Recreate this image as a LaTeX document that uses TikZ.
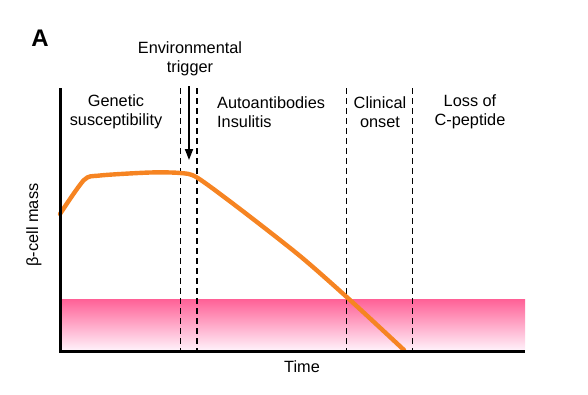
\documentclass[tikz,border=0pt]{standalone}
\usepackage{fontspec}
\setmainfont{Liberation Sans}
\usetikzlibrary{arrows.meta}
\definecolor{curveorange}{RGB}{246,132,34}
\definecolor{bandpink}{RGB}{255,96,150}
\definecolor{bandlight}{RGB}{255,238,248}
\tikzset{
  lbl/.style={font=\fontsize{16.3}{19}\selectfont, align=center, inner sep=0pt},
  lbll/.style={font=\fontsize{16.3}{19}\selectfont, align=left, inner sep=0pt},
  axisline/.style={line width=3pt, black},
  divider/.style={line width=1.9pt, dash pattern=on 6pt off 4pt, black},
  massline/.style={line width=4.4pt, curveorange, line join=round, line cap=round},
}
\begin{document}
\begin{tikzpicture}[x=1pt,y=-1pt]
\useasboundingbox (0,0) rectangle (588,394);
% pink band
\shade[top color=bandpink, bottom color=bandlight] (60,299) rectangle (525,349);
% coordinates
\coordinate (ytop) at (60,88);
\coordinate (orig) at (60,351);
\coordinate (xend) at (525,351);
\foreach \n/\x in {d1/180.5, d2/197, d3/346.5, d4/412.5}{
  \coordinate (\n t) at (\x,88);
  \coordinate (\n b) at (\x,351);
}
% dividers
\foreach \n in {d1,d2,d3,d4}{ \draw[divider] (\n t) -- (\n b); }
% curve
\draw[massline] plot[smooth, tension=0.45] coordinates {(60,214) (84,180) (100,175.5) (150,172.5) (180,173) (197,177.5) (240,209) (300,256) (350,300) (404,350)};
% axes
\draw[axisline] (ytop) -- (orig) -- (xend);
% labels
\node[font=\fontsize{24}{24}\selectfont\bfseries, inner sep=0pt] (A) at (40,38) {A};
\node[lbl] (env) at (190,59) {Environmental\\trigger};
\coordinate (arrS) at (189,86);
\coordinate (arrE) at (189,160);
\draw[line width=1.8pt, -{Triangle[length=11pt,width=8pt]}] (arrS) -- (arrE);
\node[lbl] (gen) at (116,112) {Genetic\\susceptibility};
\node[lbll, anchor=west] (auto) at (217,112) {Autoantibodies\\Insulitis};
\node[lbl] (clin) at (380,112) {Clinical\\onset};
\node[lbl] (loss) at (470,112) {Loss of\\C-peptide};
\node[lbl, rotate=90] (ylab) at (34,225) {β-cell mass};
\node[lbl] (time) at (302,367) {Time};
\end{tikzpicture}
\end{document}
